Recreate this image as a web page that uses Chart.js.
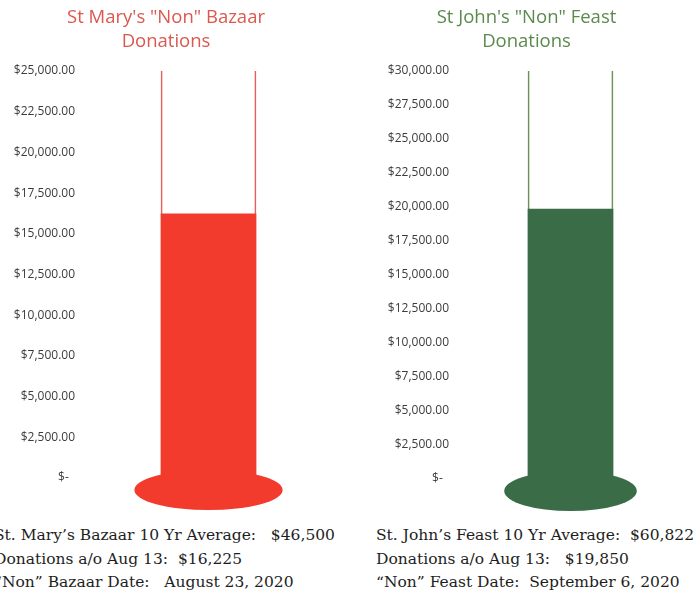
<!DOCTYPE html>
<html>
<head>
<meta charset="utf-8">
<script src="https://cdn.jsdelivr.net/npm/chart.js@4"></script>
<style>
  body { margin: 0; width: 693px; height: 592px; background: #fff; position: relative; overflow: hidden; }
  canvas { position: absolute; top: 0; }
  #maryChart { left: 0; }
  #johnChart { left: 371px; }
  .notes { position: absolute; top: 524px; font-family: "DejaVu Serif", serif; font-size: 15.5px;
           line-height: 23.5px; color: #1e1e1e; white-space: pre; }
  #maryNotes { left: -6px; }
  #johnNotes { left: 376px; }
</style>
</head>
<body>
<canvas id="maryChart" width="336" height="520"></canvas>
<canvas id="johnChart" width="322" height="520"></canvas>
<div class="notes" id="maryNotes"></div>
<div class="notes" id="johnNotes"></div>
<script>
  // データ
  const maryCategory = ['St Mary'];
  const maryDonations = [16225];
  const maryGoal = [25000];            // 温度計の目盛り上限
  const maryTickLabels = ['$-', '$2,500.00', '$5,000.00', '$7,500.00', '$10,000.00', '$12,500.00',
                          '$15,000.00', '$17,500.00', '$20,000.00', '$22,500.00', '$25,000.00'];
  const maryLines = ['St. Mary\u2019s Bazaar 10 Yr Average:   $46,500',
                     'Donations a/o Aug 13:  $16,225',
                     '\u201cNon\u201d Bazaar Date:   August 23, 2020'];

  const johnCategory = ['St John'];
  const johnDonations = [19850];
  const johnGoal = [30000];
  const johnTickLabels = ['$-', '$2,500.00', '$5,000.00', '$7,500.00', '$10,000.00', '$12,500.00',
                          '$15,000.00', '$17,500.00', '$20,000.00', '$22,500.00', '$25,000.00',
                          '$27,500.00', '$30,000.00'];
  const johnLines = ['St. John\u2019s Feast 10 Yr Average:  $60,822',
                     'Donations a/o Aug 13:   $19,850',
                     '\u201cNon\u201d Feast Date:  September 6, 2020'];

  document.getElementById('maryNotes').textContent = maryLines.join('\n');
  document.getElementById('johnNotes').textContent = johnLines.join('\n');

  // 温度計の球部分を描くプラグイン
  const bulbPlugin = {
    id: 'bulb',
    afterDatasetsDraw(chart, args, opts) {
      const bar = chart.getDatasetMeta(0).data[0];
      const zero = chart.scales.y.getPixelForValue(0);
      const ctx = chart.ctx;
      ctx.save();
      ctx.fillStyle = opts.color;
      ctx.beginPath();
      ctx.ellipse(bar.x, zero + 12, bar.width * 0.78, 20, 0, 0, Math.PI * 2);
      ctx.fill();
      ctx.restore();
    }
  };

  function thermometer(id, opt) {
    const ctx = document.getElementById(id).getContext('2d');
    return new Chart(ctx, {
      type: 'bar',
      data: {
        labels: opt.labels,
        datasets: [{
          data: opt.values,
          backgroundColor: opt.fill,
          borderWidth: 0,
          barThickness: opt.thickness
        }, {
          data: opt.goal,
          backgroundColor: 'rgba(0,0,0,0)',
          borderColor: opt.edge,
          borderWidth: { left: 1, right: 1, top: 0, bottom: 0 },
          borderSkipped: false,
          barThickness: opt.thickness
        }]
      },
      options: {
        responsive: false,
        animation: false,
        layout: { padding: { left: 0, right: opt.padRight, top: 0, bottom: opt.padBottom } },
        datasets: { bar: { grouped: false } },
        plugins: {
          legend: { display: false },
          tooltip: { enabled: false },
          bulb: { color: opt.fill },
          title: {
            display: true,
            text: opt.title,
            color: opt.titleColor,
            font: { family: 'Open Sans', size: 18.5, weight: 'normal', lineHeight: '24px' },
            padding: { top: 6, bottom: 17 }
          }
        },
        scales: {
          x: { display: false },
          y: {
            min: 0,
            max: opt.goal[0],
            border: { display: false },
            grid: { display: false, drawTicks: false },
            afterFit(scale) { scale.width = opt.axisWidth; },
            ticks: {
              stepSize: 2500,
              padding: 10,
              color: '#3c3c3c',
              font: { family: 'Open Sans', size: 12 },
              callback: (v, i) => opt.ticks[i] === '$-' ? '$-  ' : opt.ticks[i]
            }
          }
        }
      },
      plugins: [bulbPlugin]
    });
  }

  thermometer('maryChart', {
    labels: maryCategory, values: maryDonations, goal: maryGoal, ticks: maryTickLabels,
    title: ['St Mary\'s "Non" Bazaar', 'Donations'], titleColor: '#dc574e',
    fill: '#f23b2c', edge: '#e5625a', thickness: 95, axisWidth: 85, padRight: 4, padBottom: 42
  });
  thermometer('johnChart', {
    labels: johnCategory, values: johnDonations, goal: johnGoal, ticks: johnTickLabels,
    title: ['St John\'s "Non" Feast', 'Donations'], titleColor: '#5a8a4c',
    fill: '#3a6d47', edge: '#6f9158', thickness: 85, axisWidth: 88, padRight: 11, padBottom: 41
  });
</script>
</body>
</html>
